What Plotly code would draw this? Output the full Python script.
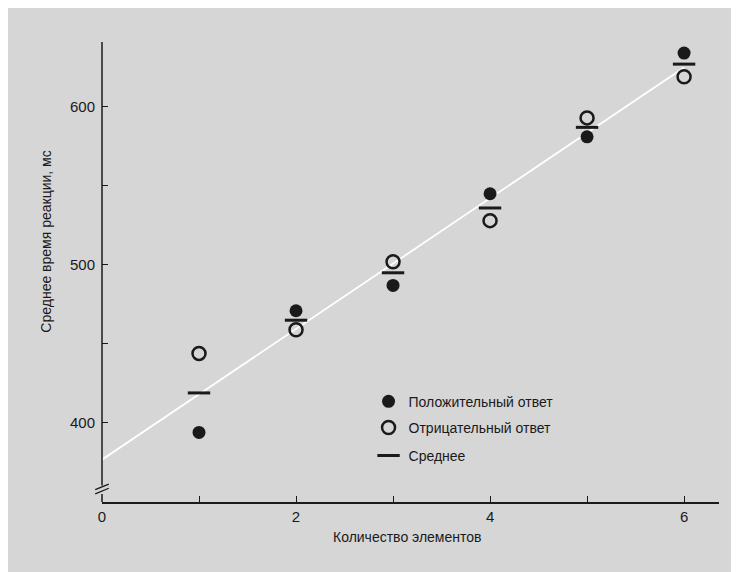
import numpy as np
import plotly.graph_objects as go

# set size (number of items) and mean reaction times, ms
set_size = [1, 2, 3, 4, 5, 6]
positive = [394, 471, 487, 545, 581, 634]
negative = [444, 459, 502, 528, 593, 619]
mean_rt = [419, 465, 495, 536, 587, 627]

x_ticks = [0, 2, 4, 6]
y_ticks = [400, 500, 600]

font_family = "Liberation Sans Narrow, Arial Narrow, Liberation Sans, Arial"
ink = "#1a1a1a"
paper = "#d6d6d6"

# least squares line through the means
slope, intercept = np.polyfit(set_size, mean_rt, 1)
fit_x = np.array([0, 6])
fit_y = intercept + slope * fit_x

fig = go.Figure()

fig.add_trace(go.Scatter(
    x=fit_x, y=fit_y, mode="lines",
    line=dict(color="white", width=1.8),
    showlegend=False, hoverinfo="skip"))

fig.add_trace(go.Scatter(
    x=set_size, y=positive, mode="markers", name="Положительный ответ",
    marker=dict(symbol="circle", size=13, color=ink),
    legend="legend"))

fig.add_trace(go.Scatter(
    x=set_size, y=negative, mode="markers", name="Отрицательный ответ",
    marker=dict(symbol="circle-open", size=13, color=ink,
                line=dict(width=2.5, color=ink)),
    legend="legend2"))

fig.add_trace(go.Scatter(
    x=set_size, y=mean_rt, mode="markers", name="Среднее",
    marker=dict(symbol="line-ew", size=16,
                line=dict(width=3, color=ink)),
    legend="legend3"))

y_lo, y_hi = 350, 641
x_lo, x_hi = 0, 6.36

def ypaper(v):
    return (v - y_lo) / (y_hi - y_lo)

# y axis drawn by hand so that it can carry the break mark
axis_line = dict(color=ink, width=1.5)
fig.add_shape(type="line", xref="paper", yref="paper",
              x0=0, x1=0, y0=ypaper(360.5), y1=1, line=axis_line)
fig.add_shape(type="line", xref="paper", yref="paper",
              x0=0, x1=0, y0=0, y1=ypaper(355), line=axis_line)
for v in (355.2, 357.8):
    fig.add_shape(type="line", xref="paper", yref="paper",
                  x0=-0.011, x1=0.011, y0=ypaper(v), y1=ypaper(v + 3.5),
                  line=dict(color=ink, width=1.3))

leg = dict(x=0.432, xanchor="left", yanchor="middle",
           bgcolor="rgba(0,0,0,0)",
           font=dict(family=font_family, size=14, color=ink))

# the page adds an 8px body margin, so margins are 8px smaller on top/left
fig.update_layout(
    width=739, height=572,
    margin=dict(l=94, r=28, t=34, b=78),
    paper_bgcolor=paper, plot_bgcolor=paper,
    font=dict(family=font_family, size=14, color=ink),
    legend=dict(leg, y=0.218),
    legend2=dict(leg, y=0.161),
    legend3=dict(leg, y=0.1),
    xaxis=dict(range=[x_lo, x_hi], tickvals=x_ticks, showgrid=False,
               zeroline=False, showline=True, linecolor=ink, linewidth=1.5,
               ticks="inside", ticklen=6, tickcolor=ink, tickwidth=1.3,
               minor=dict(dtick=1, ticks="inside", ticklen=6,
                          tickcolor=ink, tickwidth=1.3),
               tickfont=dict(size=15)),
    yaxis=dict(range=[y_lo, y_hi], tickvals=y_ticks, showgrid=False,
               zeroline=False, showline=False,
               ticks="inside", ticklen=6, tickcolor=ink, tickwidth=1.3,
               minor=dict(tickvals=[450, 550], ticks="inside", ticklen=6,
                          tickcolor=ink, tickwidth=1.3),
               tickfont=dict(size=15), ticklabelstandoff=6),
)

fig.add_annotation(text="Количество элементов", xref="paper", yref="paper",
                   x=(407 - 102) / 617, y=-0.075, yanchor="middle",
                   showarrow=False, font=dict(size=14))
fig.add_annotation(text="Среднее время реакции, мс", xref="paper", yref="paper",
                   x=-0.09, y=ypaper(515), xanchor="center", textangle=-90,
                   showarrow=False, font=dict(size=14))

fig.write_html("out.html")
